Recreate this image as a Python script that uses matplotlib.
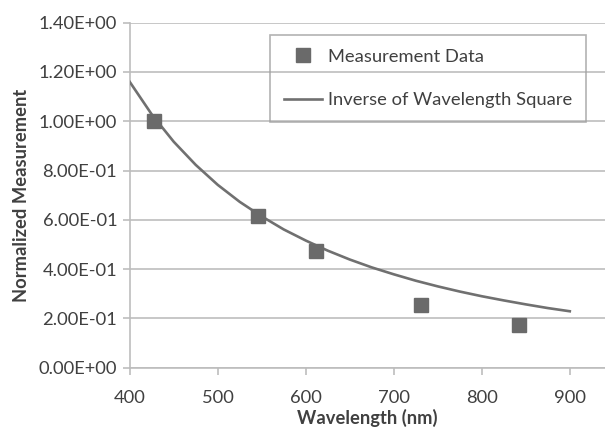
import matplotlib
matplotlib.use("Agg")
import matplotlib.pyplot as plt
from matplotlib.ticker import FuncFormatter

# measured points
wl_meas = [428, 546, 612, 731, 842]
y_meas = [1.00, 0.617, 0.475, 0.254, 0.173]

# fitted curve
wl_fit = [400, 425, 450, 475, 500, 525, 550, 575, 600, 625, 650,
          675, 700, 725, 750, 775, 800, 825, 850, 875, 900]
y_fit = [1.160, 1.028, 0.917, 0.823, 0.742, 0.673, 0.614, 0.561, 0.516, 0.475, 0.439,
         0.407, 0.379, 0.353, 0.330, 0.309, 0.290, 0.273, 0.257, 0.242, 0.229]

x_ticks = [400, 500, 600, 700, 800, 900]
y_ticks = [0.0, 0.2, 0.4, 0.6, 0.8, 1.0, 1.2, 1.4]

plt.rcParams['font.family'] = ['Lato', 'DejaVu Sans']
txt = '#404040'
grid = '#bdbdbd'
fs = 13.2

fig = plt.figure(figsize=(6.05, 4.33), dpi=100)
ax = fig.add_axes([0.2144, 0.1508, 0.7856, 0.7968])

ax.plot(wl_fit, y_fit, color='#707070', lw=1.9, label='Inverse of Wavelength Square', zorder=3)
ax.plot(wl_meas, y_meas, 's', color='#6a6a6a', ms=9.5, label='Measurement Data', zorder=4)

ax.set_xlim(400, 940)
ax.set_ylim(0, 1.4)
ax.set_xticks(x_ticks)
ax.set_yticks(y_ticks)
ax.yaxis.set_major_formatter(FuncFormatter(lambda v, p: ('%.2E' % v)))
ax.yaxis.grid(True, color=grid, lw=1.2)
ax.set_axisbelow(True)

for s in ['top', 'right']:
    ax.spines[s].set_visible(False)
for s in ['left', 'bottom']:
    ax.spines[s].set_color(grid)
    ax.spines[s].set_linewidth(1.2)
ax.tick_params(axis='both', colors=grid, length=5, width=1.2, labelcolor=txt, labelsize=fs)
ax.tick_params(axis='x', pad=11)
ax.tick_params(axis='y', pad=4)

ax.set_xlabel('Wavelength (nm)', fontsize=fs, fontweight='bold', color=txt, labelpad=2)
ax.set_ylabel('Normalized Measurement', fontsize=fs, fontweight='bold', color=txt, labelpad=6)

h, l = ax.get_legend_handles_labels()
leg = fig.legend(h[::-1], l[::-1], loc='upper left', bbox_to_anchor=(270/605, 1-35/433),
                 fontsize=fs, frameon=True, fancybox=False, facecolor='none',
                 edgecolor='#a0a0a0', labelspacing=1.5, borderpad=0.75, handlelength=2.1,
                 handletextpad=0.3, borderaxespad=0)
leg.get_frame().set_linewidth(1.2)
for t in leg.get_texts():
    t.set_color(txt)

fig.savefig('out.png', dpi=100)
